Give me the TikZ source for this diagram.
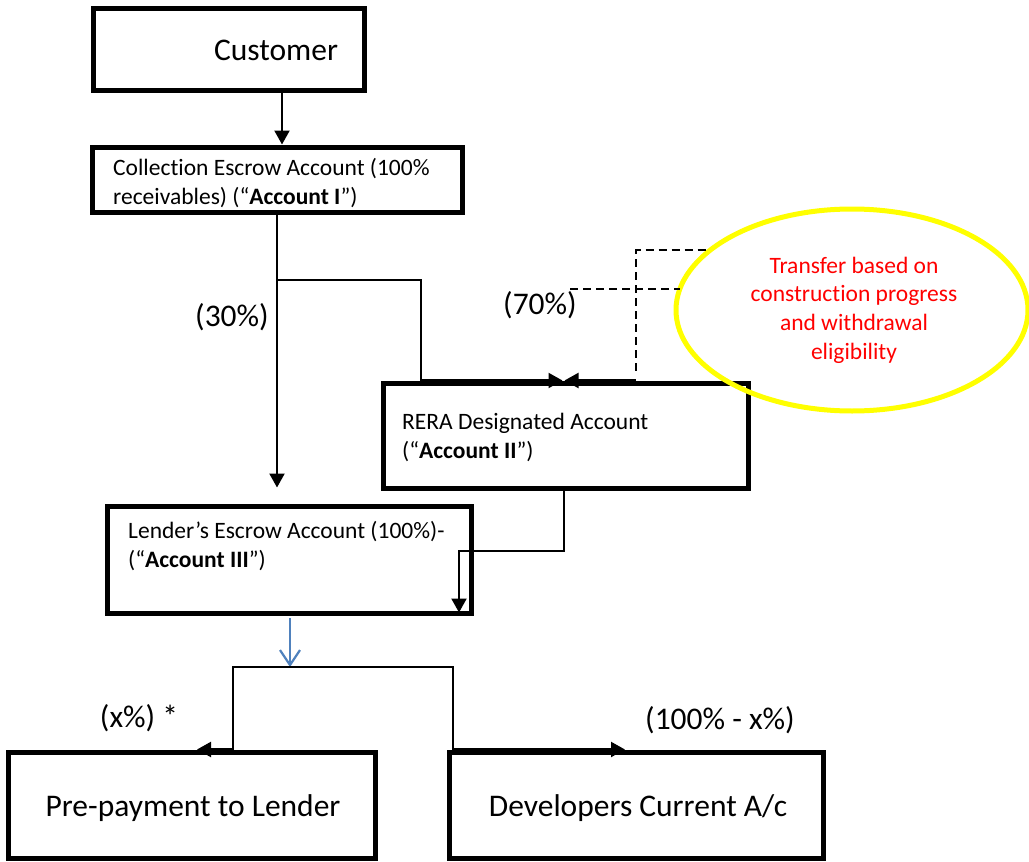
\documentclass[tikz,border=0pt]{standalone}
\usepackage{fontspec}
\setmainfont{Carlito}[Ligatures=NoCommon]
\usetikzlibrary{arrows.meta,shapes.geometric}
\definecolor{blueline}{HTML}{4F81BD}
\definecolor{ellyellow}{HTML}{FFFF00}
\definecolor{ellred}{HTML}{FF0000}
\begin{document}
\begin{tikzpicture}[x=1pt,y=-1pt,
  box/.style={draw,line width=5pt,inner sep=0pt,rectangle},
  conn/.style={line width=2.2pt},
  tip/.style={-{Triangle[length=14pt,width=15pt]}},
  small/.style={font=\fontsize{23.5}{28.7}\selectfont,inner sep=0pt},
  big/.style={font=\fontsize{31.5}{38}\selectfont,inner sep=0pt},
  dsh/.style={line width=2.2pt,dash pattern=on 8pt off 5pt}]
\useasboundingbox (0,0) rectangle (1029,862);

% boxes
\node[box,minimum width=271pt,minimum height=82pt] (cust) at (228.5,49) {};
\node[box,minimum width=370pt,minimum height=65pt] (coll) at (277,179.5) {};
\node[box,minimum width=365pt,minimum height=105pt] (rera) at (565.5,435.5) {};
\node[box,minimum width=364pt,minimum height=107pt] (lend) at (289,559.5) {};
\node[box,minimum width=367pt,minimum height=106pt] (prep) at (191.5,805) {};
\node[box,minimum width=374pt,minimum height=106pt] (dev) at (636,805) {};

% texts
\node[big] (custT) at (276,50) {Customer};
\node[small,anchor=west,align=left] (collT) at (113,183) {Collection Escrow Account (100\%\\receivables) (“\textbf{Account I}”)};
\node[small,anchor=west,align=left] (reraT) at (402,437.5) {RERA Designated Account\\(“\textbf{Account II}”)};
\node[small,anchor=west,align=left] (lendT) at (128,546) {Lender’s Escrow Account (100\%)-\\(“\textbf{Account III}”)};
\node[big] (prepT) at (193,808) {Pre-payment to Lender};
\node[big] (devT) at (638,808) {Developers Current A/c};

% ellipse
\node[draw=ellyellow,line width=5pt,ellipse,minimum width=352pt,minimum height=202pt,inner sep=0pt] (ell) at (852,310) {};
\node[small,align=center,text=ellred] (ellT) at (854,310) {Transfer based on\\construction progress\\and withdrawal\\eligibility};

% labels
\node[big] (p30) at (232,317) {(30\%)};
\node[big] (p70) at (540,305) {(70\%)};
\node[big] (px) at (139,718) {(x\%) *};
\node[big] (p100) at (720,720) {(100\% - x\%)};

% helper coordinates
\coordinate (cx) at (282,0);
\coordinate (sx) at (277,0);
\coordinate (j1) at (277,280);
\coordinate (bx) at (421,0);
\coordinate (dx) at (636,0);
\coordinate (dtop) at (636,250);
\coordinate (e1) at (710,250);
\coordinate (dm) at (570,289);
\coordinate (e2) at (680,289);
\coordinate (rx) at (564,0);
\coordinate (ly) at (0,551);
\coordinate (lx) at (459,0);
\coordinate (bb) at (290,0);
\coordinate (hy) at (0,667);
\coordinate (qa) at (233,0);
\coordinate (qb) at (453,0);
\coordinate (ta) at (197,0);
\coordinate (tb) at (625,0);

% connectors
\draw[conn,tip] (cust.south -| cx) -- (coll.north -| cx);
\draw[conn,tip,shorten >=16pt] (coll.south -| sx) -- (lend.north -| sx);
\draw[conn] (j1) -| (rera.north -| bx);
\draw[conn,tip,shorten >=3pt] (rera.north -| bx) -- (rera.north);
\draw[conn,tip,shorten >=-1pt] (rera.north -| dx) -- (rera.north);
\draw[dsh,shorten <=10pt] (rera.north -| dx) -- (dtop) -- (e1);
\draw[dsh] (dm) -- (e2);
\draw[conn,tip,shorten >=3pt] (rera.south -| rx) |- (lx |- ly) -- (lend.south -| lx);
\draw[line width=2.2pt,draw=blueline,-{Straight Barb[length=15pt,width=20pt]},shorten <=2.5pt] (lend.south -| bb) -- (bb |- hy);
\draw[conn] (prep.north -| qa) |- (qb |- hy) -- (dev.north -| qb);
\draw[conn,tip] (prep.north -| qa) -- (prep.north -| ta);
\draw[conn,tip] (dev.north -| qb) -- (dev.north -| tb);
\end{tikzpicture}
\end{document}
